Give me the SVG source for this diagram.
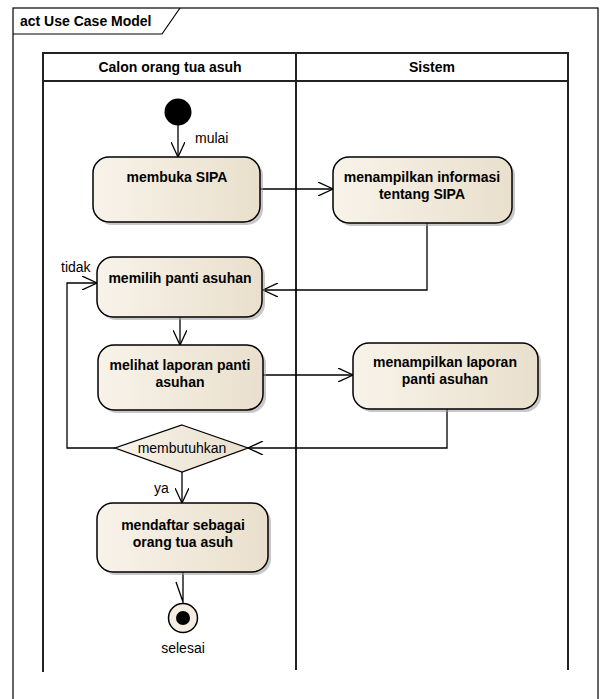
<svg xmlns="http://www.w3.org/2000/svg" width="600" height="699" viewBox="0 0 600 699">
  <defs>
    <linearGradient id="actFill" x1="0" y1="0" x2="1" y2="0">
      <stop offset="0" stop-color="#f8f3ea"/>
      <stop offset="1" stop-color="#e9dfcc"/>
    </linearGradient>
    <marker id="open" viewBox="0 0 16 14" refX="15" refY="7" markerWidth="16" markerHeight="14" markerUnits="userSpaceOnUse" orient="auto">
      <path d="M0,0 L15,7 L0,14" fill="none" stroke="#000" stroke-width="1.3"/>
    </marker>
    <style>
      .frame { fill: #fff; stroke: #000; stroke-width: 1.2; }
      .lane { fill: none; stroke: #222; stroke-width: 2; }
      .shadow { fill: #9a9a9a; opacity: 0.55; }
      .act { fill: url(#actFill); stroke: #000; stroke-width: 1.5; }
      .edge { fill: none; stroke: #000; stroke-width: 1.3; }
      .bold { font-family: "Liberation Sans", Arial, sans-serif; font-size: 14px; font-weight: bold; fill: #000; text-anchor: middle; }
      .lbl { font-family: "Liberation Sans", Arial, sans-serif; font-size: 14px; fill: #000; }
    </style>
  </defs>

  <!-- diagram frame -->
  <g id="frame">
    <rect class="frame" x="13" y="8" width="585" height="700"/>
    <path d="M13,34 L162,34 L180,8" fill="none" stroke="#000" stroke-width="1.2"/>
    <text class="bold" x="20" y="26" style="text-anchor:start">act Use Case Model</text>
  </g>

  <!-- swimlanes -->
  <g id="lanes">
    <path class="lane" d="M43,672 L43,53 L568,53 L568,670"/>
    <path class="lane" d="M43,81 L568,81"/>
    <path class="lane" d="M296,53 L296,670"/>
    <text class="bold" x="170" y="72">Calon orang tua asuh</text>
    <text class="bold" x="432" y="72">Sistem</text>
  </g>

  <!-- connectors -->
  <g id="connectors">
    <path class="edge" d="M178,125 L178,157" marker-end="url(#open)"/>
    <text class="lbl" x="195" y="143">mulai</text>
    <path class="edge" d="M260,189 L333,189" marker-end="url(#open)"/>
    <path class="edge" d="M427,223 L427,290 L263,290" marker-end="url(#open)"/>
    <path class="edge" d="M180,317 L180,345" marker-end="url(#open)"/>
    <path class="edge" d="M263,375 L353,375" marker-end="url(#open)"/>
    <path class="edge" d="M447,409 L447,448 L248,448" marker-end="url(#open)"/>
    <path class="edge" d="M115,448 L67,448 L67,283 L97,283" marker-end="url(#open)"/>
    <text class="lbl" x="61" y="272">tidak</text>
    <path class="edge" d="M182,472 L182,503" marker-end="url(#open)"/>
    <text class="lbl" x="154" y="493">ya</text>
    <path class="edge" d="M183,572 L183,603 M176,582 L183,602"/>
  </g>

  <g id="start">
    <circle cx="178" cy="112" r="13.5" fill="#000"/>
  </g>

  <g id="membuka">
    <rect class="shadow" x="96" y="160" width="167" height="65" rx="16"/>
    <rect class="act" x="93" y="157" width="167" height="65" rx="16"/>
    <text class="bold" x="177" y="182">membuka SIPA</text>
  </g>

  <g id="info">
    <rect class="shadow" x="336" y="160" width="179" height="66" rx="16"/>
    <rect class="act" x="333" y="157" width="179" height="66" rx="16"/>
    <text class="bold" x="422" y="182">menampilkan informasi</text>
    <text class="bold" x="422" y="199">tentang SIPA</text>
  </g>

  <g id="memilih">
    <rect class="shadow" x="100" y="260" width="165" height="60" rx="16"/>
    <rect class="act" x="97" y="257" width="165" height="60" rx="16"/>
    <text class="bold" x="180" y="283">memilih panti asuhan</text>
  </g>

  <g id="melihat">
    <rect class="shadow" x="101" y="348" width="165" height="65" rx="16"/>
    <rect class="act" x="98" y="345" width="165" height="65" rx="16"/>
    <text class="bold" x="180" y="370">melihat laporan panti</text>
    <text class="bold" x="180" y="387">asuhan</text>
  </g>

  <g id="laporan">
    <rect class="shadow" x="356" y="346" width="185" height="66" rx="16"/>
    <rect class="act" x="353" y="343" width="185" height="66" rx="16"/>
    <text class="bold" x="445" y="367">menampilkan laporan</text>
    <text class="bold" x="445" y="384">panti asuhan</text>
  </g>

  <g id="decision">
    <polygon points="182,425 248,448 182,472 115,448" fill="url(#actFill)" stroke="#000" stroke-width="1.3"/>
    <text class="lbl" x="182" y="453" text-anchor="middle">membutuhkan</text>
  </g>

  <g id="mendaftar">
    <rect class="shadow" x="100" y="506" width="171" height="69" rx="16"/>
    <rect class="act" x="97" y="503" width="171" height="69" rx="16"/>
    <text class="bold" x="183" y="530">mendaftar sebagai</text>
    <text class="bold" x="183" y="547">orang tua asuh</text>
  </g>

  <g id="end">
    <circle cx="183" cy="618" r="14.5" fill="#f3ede2" stroke="#000" stroke-width="1.5"/>
    <circle cx="183" cy="618" r="7" fill="#000"/>
    <text class="lbl" x="183" y="653" text-anchor="middle">selesai</text>
  </g>
</svg>
